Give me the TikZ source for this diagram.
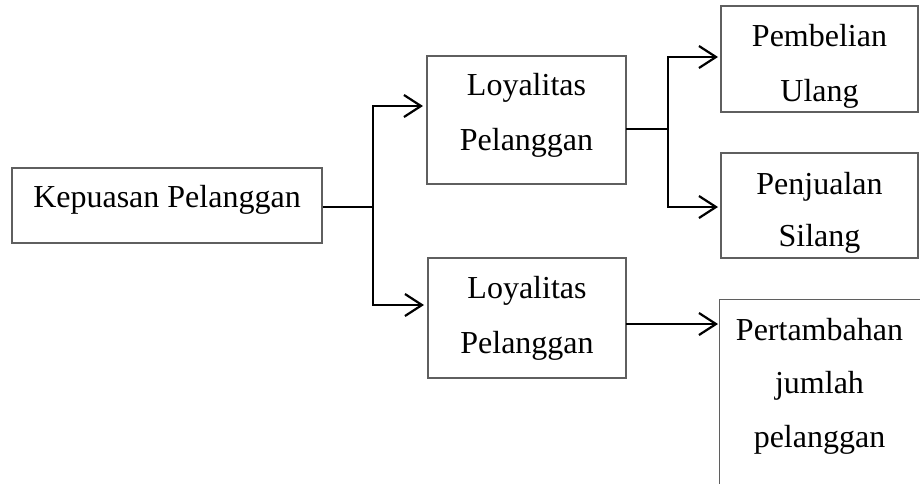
\documentclass[tikz,border=0pt]{standalone}
\usepackage{fontspec}
\setmainfont{Liberation Serif}
\usetikzlibrary{arrows.meta}
\definecolor{boxgray}{RGB}{95,95,95}
\begin{document}
\begin{tikzpicture}[x=1pt,y=-1pt,
  box/.style={draw=boxgray, line width=1.1pt, inner sep=0pt},
  lbl/.style={anchor=base, inner sep=0pt, font=\fontsize{32}{38}\selectfont},
  conn/.style={line width=2.2pt, black},
  tip/.tip={Straight Barb[length=17pt,width=22pt,line width=2.2pt]},
  arr/.style={conn, -tip, shorten >=4pt},
  arrs/.style={conn, tip-tip, shorten >=4pt, shorten <=4pt}]
\useasboundingbox (0,0) rectangle (920,483);
\clip (0,0) rectangle (920,483);

% boxes
\node[box, minimum width=310pt, minimum height=75pt] (kp) at (167,205.5) {};
\node[box, minimum width=199pt, minimum height=128pt] (l1) at (526.5,120) {};
\node[box, minimum width=198pt, minimum height=120pt] (l2) at (527,318) {};
\node[box, minimum width=197pt, minimum height=106pt] (p1) at (819.5,59) {};
\node[box, minimum width=197pt, minimum height=105pt] (p2) at (819.5,205.5) {};
\node[box, minimum width=260pt, minimum height=230pt, anchor=north west] (p3) at (719,299) {};

% texts
\node[lbl] (kpt) at (167,207) {Kepuasan Pelanggan};
\node[lbl] (l1a) at (526.5,95) {Loyalitas};
\node[lbl] (l1b) at (526.5,150) {Pelanggan};
\node[lbl] (l2a) at (527,298) {Loyalitas};
\node[lbl] (l2b) at (527,353) {Pelanggan};
\node[lbl] (p1a) at (819.5,46) {Pembelian};
\begin{scope}
  \clip (p1.north west) rectangle ([yshift=5pt]p1.south east);
  \node[lbl] (p1b) at (819.5,101) {Ulang};
\end{scope}
\node[lbl] (p2a) at (819.5,194) {Penjualan};
\begin{scope}
  \clip (p2.north west) rectangle ([yshift=5pt]p2.south east);
  \node[lbl] (p2b) at (819.5,246) {Silang};
\end{scope}
\node[lbl] (p3a) at (819.5,340) {Pertambahan};
\node[lbl] (p3b) at (819.5,393) {jumlah};
\node[lbl] (p3c) at (819.5,447) {pelanggan};

% connector points
\coordinate (f1) at (373,207);
\coordinate (e1) at (427,106);
\coordinate (e2) at (428,305);
\coordinate (g1) at (626,129);
\coordinate (f2) at (668,129);
\coordinate (h1) at (721,57);
\coordinate (h2) at (721,207);
\coordinate (k1) at (626,324);
\coordinate (k2) at (719,324);

% connectors
\draw[conn] (kp.east |- f1) -- (f1);
\draw[arrs] (e1) -| (f1) |- (e2);
\draw[conn] (g1) -- (f2);
\draw[arrs, shorten >=3pt, shorten <=3pt] (h1) -| (f2) |- (h2);
\draw[arr, shorten >=1pt] (k1) -- (k2);
\end{tikzpicture}
\end{document}
